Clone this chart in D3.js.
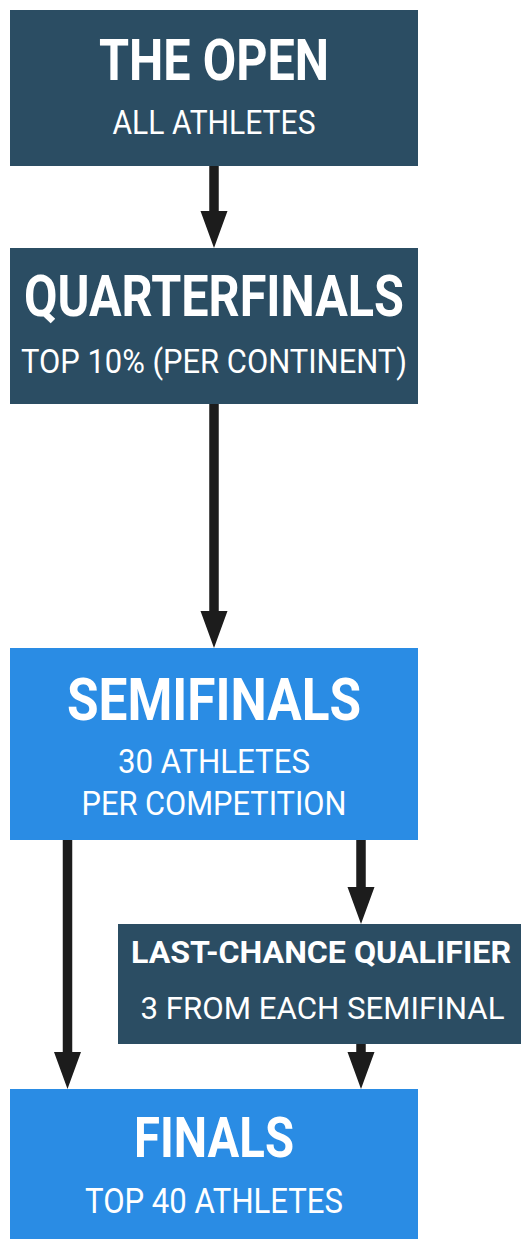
<!DOCTYPE html>
<html>
<head>
<meta charset="utf-8">
<script src="https://cdn.jsdelivr.net/npm/d3@7"></script>
<style>
  html, body { margin: 0; padding: 0; background: #ffffff; }
  svg { display: block; }
</style>
</head>
<body>
<div id="chart"></div>
<script>
// ---- data ----
const stages = ["THE OPEN", "QUARTERFINALS", "SEMIFINALS", "LAST-CHANCE QUALIFIER", "FINALS"];
const subtitles = [["ALL ATHLETES"], ["TOP 10% (PER CONTINENT)"], ["30 ATHLETES", "PER COMPETITION"], ["3 FROM EACH SEMIFINAL"], ["TOP 40 ATHLETES"]];
const stageKinds = ["online", "online", "inperson", "online", "inperson"];
const links = [[0, 1], [1, 2], [2, 4], [2, 3], [3, 4]];

// ---- layout / style ----
const W = 521, H = 1239;
const colors = { online: "#2b4d63", inperson: "#2a8ce4" };
const boxes = [
  { x: 10, y: 10, w: 408, h: 156, title: { y: 80, len: 230, size: 57 }, sub: [{ y: 134, len: 203, size: 34 }] },
  { x: 10, y: 248, w: 408, h: 156, title: { y: 316, len: 380, size: 57 }, sub: [{ y: 373, len: 386, size: 34 }] },
  { x: 10, y: 648, w: 408, h: 192, title: { y: 720, len: 294, size: 60 }, sub: [{ y: 773, len: 192, size: 34 }, { y: 815, len: 265, size: 34 }] },
  { x: 118, y: 924, w: 403, h: 120, title: { y: 963, len: 380, size: 31.5 }, sub: [{ y: 1019, len: 364, size: 31.5 }] },
  { x: 10, y: 1089, w: 408, h: 150, title: { y: 1157, len: 160, size: 56 }, sub: [{ y: 1213, len: 258, size: 35 }] }
];
const arrowX = [214, 214, 67.5, 361, 361];
const shaftW = 9.5, headW = 27, headH = 37;

const svg = d3.select("#chart").append("svg").attr("width", W).attr("height", H);

// arrows
const arrowG = svg.append("g");
links.forEach((l, i) => {
  const a = boxes[l[0]], b = boxes[l[1]];
  const x = arrowX[i];
  const y1 = a.y + a.h, y2 = b.y;
  const p = d3.path();
  p.moveTo(x - shaftW / 2, y1);
  p.lineTo(x + shaftW / 2, y1);
  p.lineTo(x + shaftW / 2, y2 - headH);
  p.lineTo(x + headW / 2, y2 - headH);
  p.lineTo(x, y2);
  p.lineTo(x - headW / 2, y2 - headH);
  p.lineTo(x - shaftW / 2, y2 - headH);
  p.closePath();
  arrowG.append("path").attr("d", p.toString()).attr("fill", "#1c1c1c");
});

// boxes
const nodes = svg.selectAll("g.node").data(stages).join("g").attr("class", "node");
nodes.append("rect")
  .attr("x", (d, i) => boxes[i].x).attr("y", (d, i) => boxes[i].y)
  .attr("width", (d, i) => boxes[i].w).attr("height", (d, i) => boxes[i].h)
  .attr("fill", (d, i) => colors[stageKinds[i]]);

nodes.append("text")
  .attr("x", (d, i) => boxes[i].x + boxes[i].w / 2 + (i === 3 ? 1.5 : 0))
  .attr("y", (d, i) => boxes[i].title.y)
  .attr("text-anchor", "middle")
  .attr("font-family", "Roboto, 'Noto Sans', sans-serif")
  .attr("font-weight", 700)
  .attr("font-size", (d, i) => boxes[i].title.size)
  .attr("textLength", (d, i) => boxes[i].title.len)
  .attr("lengthAdjust", "spacingAndGlyphs")
  .attr("fill", "#ffffff")
  .text(d => d);

nodes.each(function (d, i) {
  const g = d3.select(this);
  subtitles[i].forEach((s, j) => {
    const sp = boxes[i].sub[j];
    g.append("text")
      .attr("x", boxes[i].x + boxes[i].w / 2 + (i === 3 ? 3 : 0))
      .attr("y", sp.y)
      .attr("text-anchor", "middle")
      .attr("font-family", "Roboto, 'Noto Sans', sans-serif")
      .attr("font-weight", 400)
      .attr("font-size", sp.size)
      .attr("textLength", sp.len)
      .attr("lengthAdjust", "spacingAndGlyphs")
      .attr("fill", "#ffffff")
      .text(s);
  });
});
</script>
</body>
</html>
